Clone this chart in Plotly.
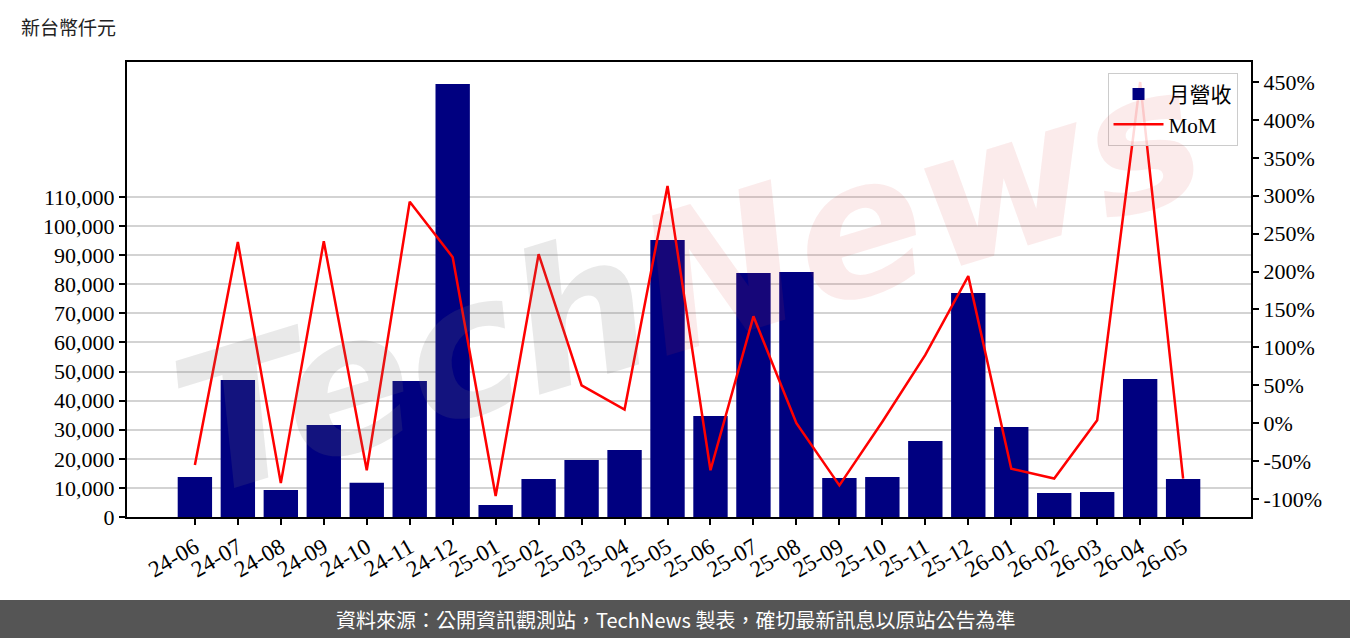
import plotly.graph_objects as go

months = ["24-06", "24-07", "24-08", "24-09", "24-10", "24-11", "24-12",
          "25-01", "25-02", "25-03", "25-04", "25-05", "25-06", "25-07",
          "25-08", "25-09", "25-10", "25-11", "25-12", "26-01", "26-02",
          "26-03", "26-04", "26-05"]
revenue = [13750, 47100, 9300, 31600, 11800, 46750, 148850,
           4100, 13060, 19600, 23000, 95200, 34700, 83900,
           84200, 13400, 13750, 26100, 77000, 30900, 8250,
           8600, 47400, 13060]
mom = [-55, 239, -79, 240, -62, 292, 219,
       -96, 223, 50, 18, 313, -62, 141,
       0, -82, 2, 90, 194, -60, -73,
       4, 450, -73]

left_ticks = list(range(0, 110001, 10000))
left_ticktext = [f"{v:,}" for v in left_ticks]
right_ticks = list(range(-100, 451, 50))
right_ticktext = [f"{v}%" for v in right_ticks]

serif = "Liberation Serif, DejaVu Serif, serif"
cjk = "Noto Sans CJK TC, Noto Sans CJK SC, sans-serif"

fig = go.Figure()
fig.add_trace(go.Bar(
    x=months, y=revenue, name="月營收",
    marker=dict(color="#000080", line=dict(width=0)),
    width=0.8, yaxis="y"))
fig.add_trace(go.Scatter(
    x=months, y=mom, name="MoM", mode="lines",
    line=dict(color="#ff0000", width=2.5), yaxis="y2"))

fig.update_layout(
    width=1350, height=638,
    margin=dict(l=127, r=99, t=62, b=121),
    paper_bgcolor="white", plot_bgcolor="white",
    showlegend=True,
    font=dict(family=serif, size=22, color="black"),
    xaxis=dict(
        type="category", range=[-1.58, 24.58],
        showline=True, linecolor="black", linewidth=2, mirror=True,
        ticks="outside", ticklen=6, tickwidth=1.5, tickcolor="black",
        tickangle=-30, tickfont=dict(family=serif, size=23),
        showgrid=False, zeroline=False),
    yaxis=dict(
        range=[0, 156400], tickvals=left_ticks, ticktext=left_ticktext,
        showline=True, linecolor="black", linewidth=2,
        ticks="outside", ticklen=6, tickwidth=1.5, tickcolor="black",
        tickfont=dict(family=serif, size=22),
        showgrid=True, gridcolor="#d3d3d3", gridwidth=2, zeroline=False),
    yaxis2=dict(
        overlaying="y", side="right",
        range=[-123.7, 476.4], tickvals=right_ticks, ticktext=right_ticktext,
        showline=True, linecolor="black", linewidth=2,
        ticks="outside", ticklen=6, tickwidth=1.5, tickcolor="black",
        tickfont=dict(family=serif, size=22),
        showgrid=False, zeroline=False),
    legend=dict(
        x=0.988, xanchor="right", y=0.976, yanchor="top",
        bgcolor="rgba(255,255,255,0.85)", bordercolor="#cccccc", borderwidth=1,
        font=dict(family="Liberation Serif, Noto Sans CJK TC", size=21),
        itemwidth=50, tracegroupgap=2),
)

# watermark
fig.add_annotation(
    xref="paper", yref="paper", x=0.5, y=0.52,
    text="<b><i><span style='color:rgba(120,120,120,0.4)'>Tech</span>"
         "<span style='color:rgba(220,60,60,0.26)'>News</span></i></b>",
    showarrow=False, textangle=-17,
    font=dict(family="DejaVu Sans", size=190, color="rgba(120,120,120,0.4)"),
    xanchor="center", yanchor="middle")

# unit label
fig.add_annotation(
    xref="paper", yref="paper", x=-0.096, y=1.077,
    text="新台幣仟元", showarrow=False, xanchor="left", yanchor="middle",
    font=dict(family=cjk, size=19, color="#222222"))

# footer band
fig.add_shape(type="rect", xref="paper", yref="paper",
              x0=-0.2, x1=1.2, y0=-0.1824, y1=-0.3,
              fillcolor="#555555", line=dict(width=0), layer="below")
fig.add_annotation(
    xref="paper", yref="paper", x=(675 - 127) / 1124, y=(517 - 619) / 455,
    text="資料來源：公開資訊觀測站，TechNews 製表，確切最新訊息以原站公告為準",
    showarrow=False, xanchor="center", yanchor="middle",
    font=dict(family=cjk, size=20, color="white"))

fig.write_html("out.html")
